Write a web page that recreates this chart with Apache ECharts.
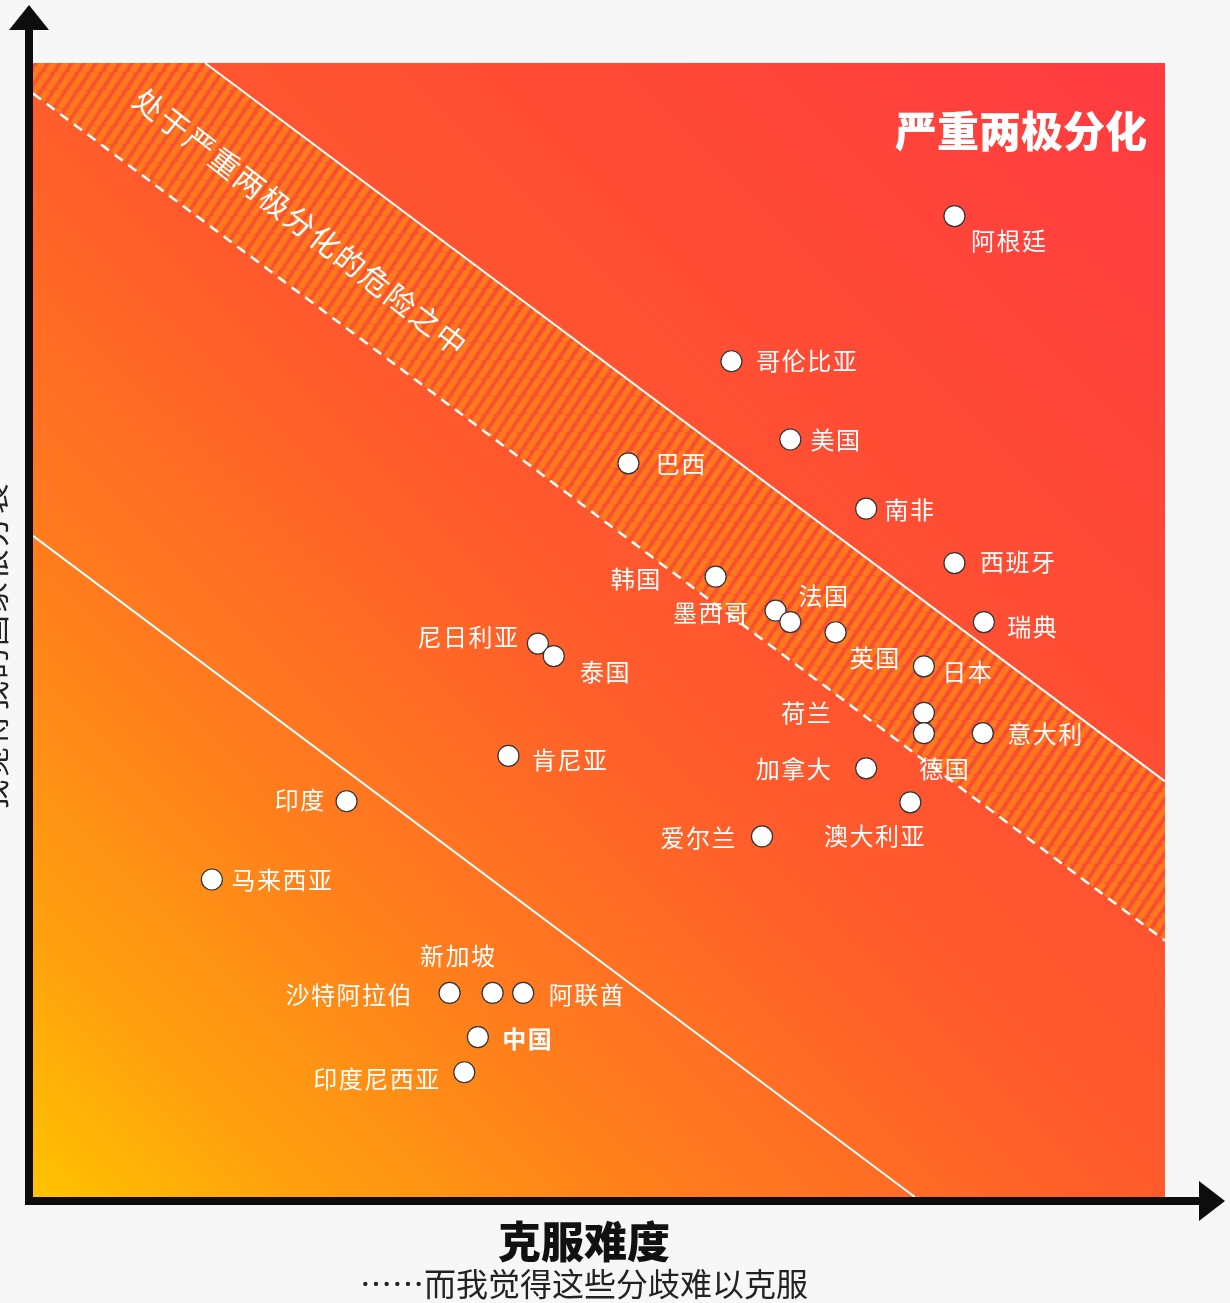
<!DOCTYPE html>
<html>
<head>
<meta charset="utf-8">
<title>两极分化程度</title>
<script src="https://cdn.jsdelivr.net/npm/echarts@6/dist/echarts.min.js"></script>
<style>
  html, body { margin: 0; padding: 0; background: #f7f7f7; }
  #chart { width: 1230px; height: 1303px; }
</style>
</head>
<body>
<div id="chart"></div>
<script>
// 各国：克服分歧的难度（横轴）与分裂程度（纵轴）
const countries = ['阿根廷','哥伦比亚','美国','巴西','南非','西班牙','韩国','墨西哥','法国','瑞典','英国','日本','尼日利亚','泰国','荷兰','德国','意大利','加拿大','澳大利亚','爱尔兰','肯尼亚','印度','马来西亚','沙特阿拉伯','新加坡','阿联酋','中国','印度尼西亚'];
const difficulty = [81.4,61.7,66.9,52.6,73.6,81.4,60.3,65.6,66.9,84.0,70.9,78.7,44.6,46.0,78.7,78.7,83.9,73.6,77.5,64.4,42.0,27.7,15.8,36.8,40.6,43.3,39.3,38.1];
const division   = [86.5,73.7,66.8,64.7,60.7,55.9,54.7,51.7,50.7,50.7,49.8,46.8,48.8,47.7,42.7,40.9,40.9,37.8,34.8,31.8,38.9,34.9,28.0,18.0,18.0,18.0,14.1,11.0];

// 分区界线（轴坐标）
const severeLineX = [15.2, 100];
const severeLineY = [100, 36.65];
const riskLineX = [0, 100];
const riskLineY = [97.3, 22.6];
const mildLineX = [0, 77.9];
const mildLineY = [58.3, 0];

// 轴范围
const axisMin = 0, axisMax = 100;

// 标签相对圆点中心的偏移（像素）
const labelOffsets = {
  '阿根廷':[54,25], '哥伦比亚':[75,0], '美国':[45,0], '巴西':[52,1], '南非':[43,1],
  '西班牙':[63,-1], '韩国':[-80,2], '墨西哥':[-65,2], '法国':[33,-26], '瑞典':[48,5],
  '英国':[39,26], '日本':[43,6], '尼日利亚':[-70,-7], '泰国':[51,16], '荷兰':[-118,0],
  '德国':[20,36], '意大利':[62,1], '加拿大':[-73,1], '澳大利亚':[-36,34], '爱尔兰':[-64,1],
  '肯尼亚':[61,4], '印度':[-47,-1], '马来西亚':[70,0], '沙特阿拉伯':[-101,2], '新加坡':[-35,-37],
  '阿联酋':[63,2], '中国':[49,2], '印度尼西亚':[-88,7]
};
const boldLabels = ['中国'];
const bandLabelAt = [23.6, 86.0];

const FONT = '"Noto Sans CJK SC", "Noto Sans", sans-serif';
const spaced = s => s.split('').join('\u200a');
const zip = (xs, ys) => xs.map((x, i) => [x, ys[i]]);

// 危险带的斜纹填充
function makeStripes() {
  const w = 12, h = 18;
  const c = document.createElement('canvas');
  c.width = w; c.height = h;
  const g = c.getContext('2d');
  g.lineCap = 'butt';
  const stroke = (dx, color, width) => {
    g.strokeStyle = color; g.lineWidth = width;
    for (let k = -1; k <= 1; k++) {
      g.beginPath();
      g.moveTo(k * w + dx, h);
      g.lineTo(k * w + dx + w, 0);
      g.stroke();
    }
  };
  stroke(6, 'rgba(200,55,45,0.18)', 3);
  stroke(0, 'rgba(255,135,30,0.35)', 7);
  stroke(0, 'rgba(255,130,28,0.6)', 5);
  stroke(0, 'rgba(255,125,25,0.85)', 3);
  return c;
}
const stripePattern = { image: makeStripes(), repeat: 'repeat' };

const bandPolygon = [
  [riskLineX[0], riskLineY[0]],
  [axisMin, axisMax],
  [severeLineX[0], severeLineY[0]],
  [severeLineX[1], severeLineY[1]],
  [riskLineX[1], riskLineY[1]]
];

const chart = echarts.init(document.getElementById('chart'));

const G = { left: 33, top: 63, right: 1165, bottom: 1197 };
const AX = '#0d0d0d';

chart.setOption({
  backgroundColor: '#f7f7f7',
  animation: false,
  grid: {
    left: G.left, top: G.top, right: 1230 - G.right, bottom: 1303 - G.bottom,
    show: true, borderWidth: 0,
    backgroundColor: new echarts.graphic.LinearGradient(0, 1, 1, 0, [
      { offset: 0, color: '#ffc300' },
      { offset: 0.12, color: '#ffa00e' },
      { offset: 0.3, color: '#ff7a1e' },
      { offset: 0.5, color: '#ff5a2c' },
      { offset: 0.75, color: '#ff4a36' },
      { offset: 1, color: '#ff3a42' }
    ])
  },
  xAxis: {
    type: 'value', min: axisMin, max: axisMax,
    axisLine: { show: false }, axisTick: { show: false },
    axisLabel: { show: false }, splitLine: { show: false }
  },
  yAxis: {
    type: 'value', min: axisMin, max: axisMax,
    axisLine: { show: false }, axisTick: { show: false },
    axisLabel: { show: false }, splitLine: { show: false }
  },
  graphic: [
    // 坐标轴与箭头
    { type: 'rect', shape: { x: 25, y: 29, width: 8, height: 1176 }, style: { fill: AX }, z: 100 },
    { type: 'polygon', shape: { points: [[9, 30], [49, 30], [29, 5]] }, style: { fill: AX }, z: 100 },
    { type: 'rect', shape: { x: 25, y: 1197, width: 1176, height: 8 }, style: { fill: AX }, z: 100 },
    { type: 'polygon', shape: { points: [[1199, 1181], [1199, 1221], [1225, 1201]] }, style: { fill: AX }, z: 100 },
    // 横轴标题
    { type: 'text', x: 584, y: 1242, z: 100,
      style: { text: '克服难度', font: '900 43px ' + FONT, fill: '#111', align: 'center', verticalAlign: 'middle' } },
    { type: 'text', x: 584, y: 1284, z: 100,
      style: { text: '……而我觉得这些分歧难以克服', font: '32px ' + FONT, fill: '#222', align: 'center', verticalAlign: 'middle' } },
    // 纵轴标题
    { type: 'text', x: -52, y: 680, rotation: Math.PI / 2, z: 100,
      style: { text: '分裂程度', font: '900 43px ' + FONT, fill: '#111', align: 'center', verticalAlign: 'middle' } },
    { type: 'text', x: -7, y: 680, rotation: Math.PI / 2, z: 100,
      style: { text: spaced('……我觉得我的国家很分裂'), font: '31px ' + FONT, fill: '#222', align: 'center', verticalAlign: 'middle' } },
    // 区域标题
    { type: 'text', x: 1147, y: 131, z: 100,
      style: { text: '严重两极分化', font: '900 42px ' + FONT, fill: '#fff', align: 'right', verticalAlign: 'middle' } }
  ],
  series: [
    {
      name: '危险带',
      type: 'custom',
      silent: true,
      clip: true,
      z: 1,
      data: [[0, 0]],
      renderItem: (params, api) => {
        const pts = bandPolygon.map(p => api.coord(p));
        const a = api.coord([severeLineX[0], severeLineY[0]]);
        const b = api.coord([severeLineX[1], severeLineY[1]]);
        const ang = Math.atan2(b[1] - a[1], b[0] - a[0]) + 0.02;
        const c = api.coord(bandLabelAt);
        return {
          type: 'group',
          children: [
            { type: 'polygon', shape: { points: pts }, style: { fill: stripePattern } },
            { type: 'text', x: c[0], y: c[1], rotation: -ang, z2: 10,
              style: { text: spaced('处于严重两极分化的危险之中'), font: '30px ' + FONT,
                       fill: '#fff', align: 'center', verticalAlign: 'middle' } }
          ]
        };
      }
    },
    {
      name: '严重两极分化界线', type: 'line', silent: true, z: 3,
      data: zip(severeLineX, severeLineY), symbol: 'none',
      lineStyle: { color: '#fff', width: 2 }
    },
    {
      name: '危险界线', type: 'line', silent: true, z: 3,
      data: zip(riskLineX, riskLineY), symbol: 'none',
      lineStyle: { color: '#fff', width: 2.5, type: [10, 7] }
    },
    {
      name: '低分化界线', type: 'line', silent: true, z: 3,
      data: zip(mildLineX, mildLineY), symbol: 'none',
      lineStyle: { color: '#fff', width: 2 }
    },
    {
      name: '国家', type: 'scatter', z: 5,
      symbol: 'circle', symbolSize: 21,
      itemStyle: { color: '#fff', borderColor: '#333', borderWidth: 1.2, opacity: 1 },
      emphasis: { disabled: true },
      label: {
        show: true, position: 'inside', color: '#fff',
        fontSize: 24, fontFamily: FONT,
        formatter: p => spaced(p.name)
      },
      data: countries.map((n, i) => ({
        name: n,
        value: [difficulty[i], division[i]],
        label: { offset: labelOffsets[n], fontWeight: boldLabels.includes(n) ? 'bold' : 'normal' }
      }))
    }
  ]
});
</script>
</body>
</html>
